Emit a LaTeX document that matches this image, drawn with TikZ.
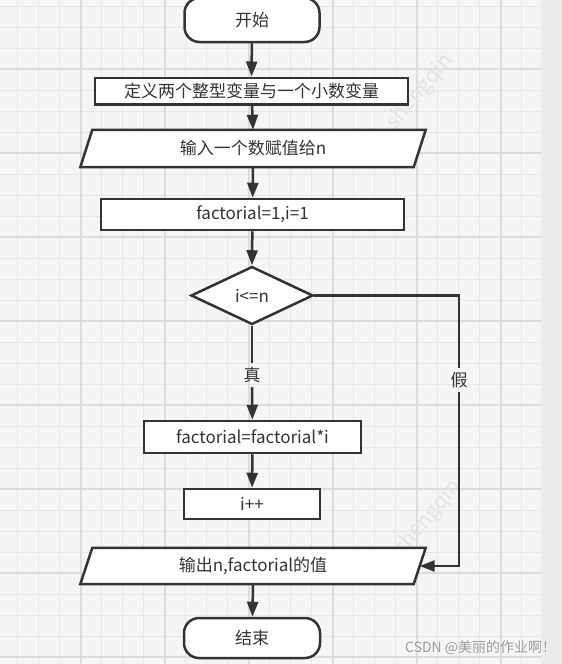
\documentclass[tikz,border=0pt]{standalone}
\usepackage{fontspec}
\setmainfont{Noto Sans CJK SC}
\usetikzlibrary{shapes.geometric,arrows.meta}
\definecolor{ink}{HTML}{333333}
\definecolor{bg}{HTML}{F5F5F5}
\definecolor{gmin}{HTML}{E6E6E6}
\definecolor{gmaj}{HTML}{DCDCDC}
\definecolor{strip}{HTML}{EBEBEB}
\definecolor{wmark}{HTML}{E3E3E3}
\begin{document}
\begin{tikzpicture}[x=1pt,y=-1pt,
  txt/.style={font=\fontsize{17}{20}\selectfont,text=ink,inner sep=0pt},
  box/.style={txt,draw=ink,line width=2.5pt,fill=white},
  term/.style={box,rounded corners=15pt},
  para/.style={draw=ink,line width=2.5pt,fill=white},
  slot/.style={inner sep=0pt},
  arr/.style={draw=ink,line width=2.5pt,-{Triangle[length=15pt,width=11pt]}},
  lbl/.style={txt,inner sep=4pt},
  wmk/.style={text=wmark,font=\fontsize{21}{24}\selectfont,rotate=50,inner sep=0pt},
  minorline/.style={draw=gmin,line width=1pt},
  majorline/.style={draw=gmaj,line width=1.6pt}
]
\useasboundingbox (0,0) rectangle (562,664);
\fill[bg] (0,0) rectangle (562,664);
% grid
\foreach \k in {0,...,24} \draw[minorline] ({17.7+21*\k},0) -- ({17.7+21*\k},664);
\foreach \k in {0,...,31} \draw[minorline] (0,{6+21*\k}) -- (541,{6+21*\k});
\foreach \k in {0,...,5} \draw[majorline] ({80.7+84*\k},0) -- ({80.7+84*\k},664);
\foreach \k in {0,...,7} \draw[majorline] (0,{69+84*\k}) -- (541,{69+84*\k});
\fill[strip] (541,0) rectangle (562,664);
% faint watermarks
\node[wmk] (wm1) at (420,92) {shengqin};
\node[wmk] (wm2) at (428,518) {shengqin};

% nodes
\node[term,minimum width=135pt,minimum height=44pt] (start) at (252,20) {开始};
\node[box,minimum width=313pt,minimum height=26.5pt] (def) at (251.5,91) {定义两个整型变量与一个小数变量};
\node[slot,minimum width=333pt,minimum height=37pt] (in) at (253,148.5) {};
\draw[para] ([xshift=6pt]in.north west) -- ([xshift=6pt]in.north east) -- ([xshift=-6pt]in.south east) -- ([xshift=-6pt]in.south west) -- cycle;
\node[txt] (inT) at (in.center) {输入一个数赋值给n};
\node[box,minimum width=303pt,minimum height=31pt] (f1) at (252.5,214.5) {factorial=1,i=1};
\node[box,diamond,minimum width=122pt,minimum height=58pt] (dia) at (252,295.5) {i<=n};
\node[box,minimum width=217pt,minimum height=32pt] (f2) at (252.5,437) {factorial=factorial*i};
\node[box,minimum width=136pt,minimum height=30pt] (inc) at (252,504) {i++};
\node[slot,minimum width=333pt,minimum height=36pt] (out) at (253,566) {};
\draw[para] ([xshift=6pt]out.north west) -- ([xshift=6pt]out.north east) -- ([xshift=-6pt]out.south east) -- ([xshift=-6pt]out.south west) -- cycle;
\node[txt] (outT) at (out.center) {输出n,factorial的值};
\node[term,minimum width=136pt,minimum height=40pt] (end) at (252,638) {结束};

% labels
\node[lbl] (yes) at (252,375) {真};
\node[lbl] (no) at (459,380) {假};
\coordinate (c1) at (459,295.5);
\coordinate (c2) at (459,566);

% connectors
\draw[arr] (start) -- (def);
\draw[arr] (def) -- (in.north);
\draw[arr] (in.south) -- (f1);
\draw[arr] (f1) -- (dia.north);
\draw[draw=ink,line width=2.5pt] (dia.south) -- (yes);
\draw[arr] (yes) -- (f2);
\draw[arr] (f2) -- (inc);
\draw[draw=ink,line width=2.5pt] (dia.east) -- (c1) -- (no);
\draw[arr] (no) -- (c2) -- (out.east);
\draw[arr] (out.south) -- (end);

\node[text=white,font=\fontsize{14}{16}\selectfont,anchor=west,inner sep=0pt] (csdnS) at (405.8,648.8) {CSDN @美丽的作业啊！};
\node[text=black!40,font=\fontsize{14}{16}\selectfont,anchor=west,inner sep=0pt] (csdn) at (405,648) {CSDN @美丽的作业啊！};
\end{tikzpicture}
\end{document}
